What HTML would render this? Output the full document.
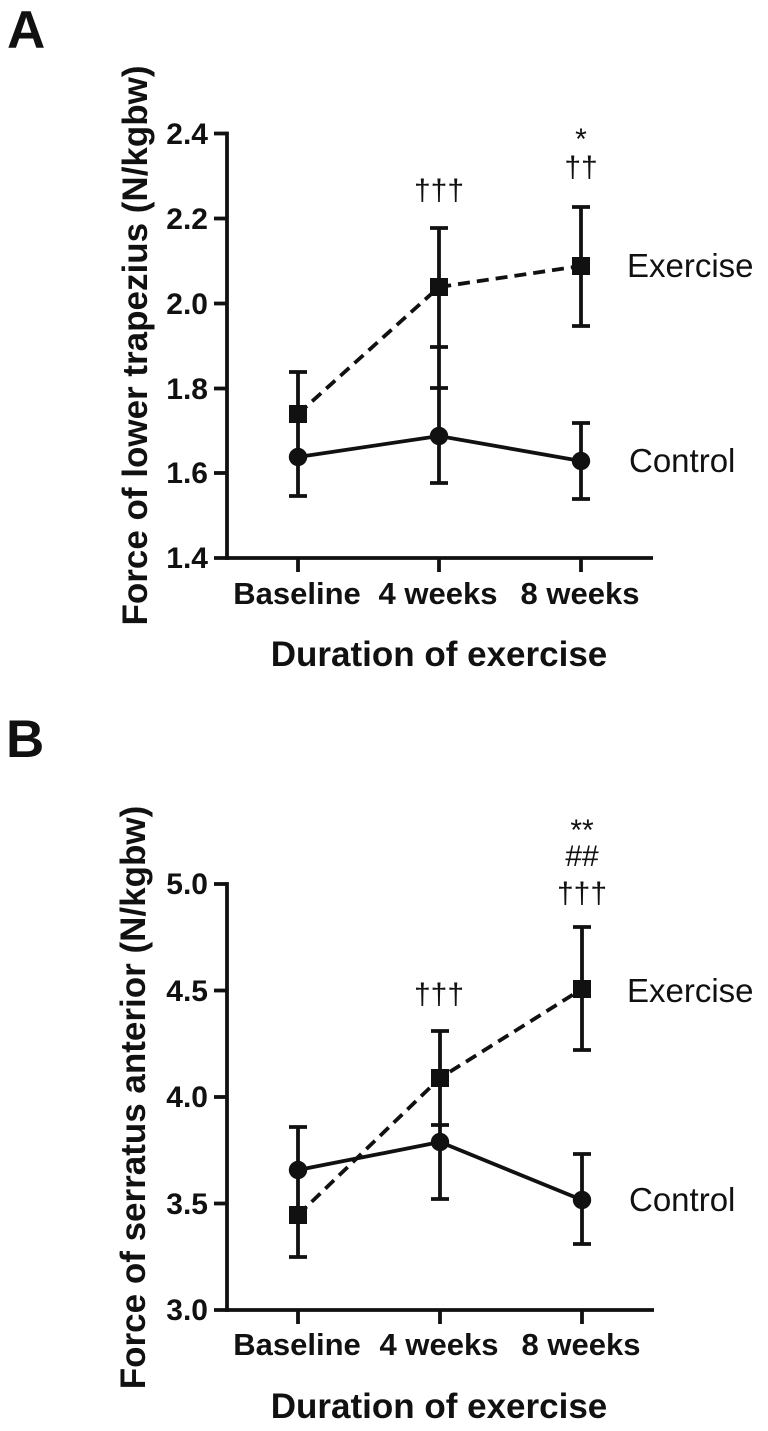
<!DOCTYPE html>
<html>
<head>
<meta charset="utf-8">
<style>
html,body{margin:0;padding:0;background:#fff;}
svg{display:block;}
text{font-family:"Liberation Sans",Arial,sans-serif;fill:#111;}
.b{font-weight:bold;}
</style>
</head>
<body>
<svg width="768" height="1431" viewBox="0 0 768 1431" xmlns="http://www.w3.org/2000/svg">
<rect width="768" height="1431" fill="#fff"/>

<!-- ===== Panel A ===== -->
<text class="b" x="7" y="48" font-size="53">A</text>
<text class="b" font-size="35" text-anchor="middle" transform="translate(147,345.5) rotate(-90)">Force of lower trapezius (N/kgbw)</text>

<g stroke="#111" stroke-width="3.8" fill="none">
  <line x1="227" y1="131.6" x2="227" y2="559.9"/>
  <line x1="214" y1="558" x2="653" y2="558"/>
  <line x1="214" y1="133.5" x2="227" y2="133.5"/>
  <line x1="214" y1="218.5" x2="227" y2="218.5"/>
  <line x1="214" y1="303.5" x2="227" y2="303.5"/>
  <line x1="214" y1="388.5" x2="227" y2="388.5"/>
  <line x1="214" y1="473" x2="227" y2="473"/>
  <line x1="298" y1="558" x2="298" y2="572"/>
  <line x1="439" y1="558" x2="439" y2="572"/>
  <line x1="581" y1="558" x2="581" y2="572"/>
</g>
<g class="b" font-size="30" text-anchor="end">
  <text x="208" y="144">2.4</text>
  <text x="208" y="229">2.2</text>
  <text x="208" y="314">2.0</text>
  <text x="208" y="399">1.8</text>
  <text x="208" y="483">1.6</text>
  <text x="208" y="568">1.4</text>
</g>
<g class="b" font-size="31" text-anchor="middle">
  <text x="297" y="604">Baseline</text>
  <text x="438" y="604">4 weeks</text>
  <text x="580" y="604">8 weeks</text>
</g>
<text class="b" x="439" y="666" font-size="35" text-anchor="middle">Duration of exercise</text>

<!-- series lines A -->
<polyline points="298,414 439,287 581,266" fill="none" stroke="#111" stroke-width="3.8" stroke-dasharray="12,7"/>
<polyline points="298,457 439,436 581,461" fill="none" stroke="#111" stroke-width="3.8"/>
<!-- error bars A -->
<g stroke="#111" stroke-width="3.8" fill="none">
  <line x1="298" y1="372" x2="298" y2="496"/>
  <line x1="289" y1="372" x2="307" y2="372"/>
  <line x1="289" y1="496" x2="307" y2="496"/>
  <line x1="439" y1="228" x2="439" y2="483"/>
  <line x1="430" y1="228" x2="448" y2="228"/>
  <line x1="430" y1="347" x2="448" y2="347"/>
  <line x1="430" y1="388" x2="448" y2="388"/>
  <line x1="430" y1="483" x2="448" y2="483"/>
  <line x1="581" y1="207" x2="581" y2="326"/>
  <line x1="572" y1="207" x2="590" y2="207"/>
  <line x1="572" y1="326" x2="590" y2="326"/>
  <line x1="581" y1="423" x2="581" y2="499"/>
  <line x1="572" y1="423" x2="590" y2="423"/>
  <line x1="572" y1="499" x2="590" y2="499"/>
</g>
<g fill="#111">
  <rect x="289" y="405" width="18" height="18"/>
  <rect x="430" y="278" width="18" height="18"/>
  <rect x="572" y="257" width="18" height="18"/>
  <circle cx="298" cy="457" r="9.2"/>
  <circle cx="439" cy="436" r="9.2"/>
  <circle cx="581" cy="461" r="9.2"/>
</g>
<g font-size="30" text-anchor="middle">
  <text x="439" y="200">†††</text>
  <text x="581" y="149">*</text>
  <text x="581" y="177">††</text>
</g>
<text x="627" y="277" font-size="33">Exercise</text>
<text x="629" y="472" font-size="33">Control</text>

<!-- ===== Panel B ===== -->
<text class="b" x="6" y="757" font-size="53">B</text>
<text class="b" font-size="35" text-anchor="middle" transform="translate(145,1097.5) rotate(-90)">Force of serratus anterior (N/kgbw)</text>

<g stroke="#111" stroke-width="3.8" fill="none">
  <line x1="227" y1="882.1" x2="227" y2="1311.9"/>
  <line x1="214" y1="1310" x2="654" y2="1310"/>
  <line x1="214" y1="884" x2="227" y2="884"/>
  <line x1="214" y1="990.5" x2="227" y2="990.5"/>
  <line x1="214" y1="1097" x2="227" y2="1097"/>
  <line x1="214" y1="1203.5" x2="227" y2="1203.5"/>
  <line x1="298" y1="1310" x2="298" y2="1324"/>
  <line x1="440" y1="1310" x2="440" y2="1324"/>
  <line x1="582" y1="1310" x2="582" y2="1324"/>
</g>
<g class="b" font-size="30" text-anchor="end">
  <text x="208" y="894">5.0</text>
  <text x="208" y="1001">4.5</text>
  <text x="208" y="1107">4.0</text>
  <text x="208" y="1214">3.5</text>
  <text x="208" y="1320">3.0</text>
</g>
<g class="b" font-size="31" text-anchor="middle">
  <text x="297" y="1355">Baseline</text>
  <text x="439" y="1355">4 weeks</text>
  <text x="581" y="1355">8 weeks</text>
</g>
<text class="b" x="439" y="1418" font-size="35" text-anchor="middle">Duration of exercise</text>

<!-- series lines B -->
<polyline points="298,1215 440,1078 582,989" fill="none" stroke="#111" stroke-width="3.8" stroke-dasharray="12,7"/>
<polyline points="298,1170 440,1142 582,1200" fill="none" stroke="#111" stroke-width="3.8"/>
<!-- error bars B -->
<g stroke="#111" stroke-width="3.8" fill="none">
  <line x1="298" y1="1127" x2="298" y2="1257"/>
  <line x1="289" y1="1127" x2="307" y2="1127"/>
  <line x1="289" y1="1257" x2="307" y2="1257"/>
  <line x1="440" y1="1031" x2="440" y2="1199"/>
  <line x1="431" y1="1031" x2="449" y2="1031"/>
  <line x1="431" y1="1125" x2="449" y2="1125"/>
  <line x1="431" y1="1199" x2="449" y2="1199"/>
  <line x1="582" y1="927" x2="582" y2="1050"/>
  <line x1="573" y1="927" x2="591" y2="927"/>
  <line x1="573" y1="1050" x2="591" y2="1050"/>
  <line x1="582" y1="1154" x2="582" y2="1244"/>
  <line x1="573" y1="1154" x2="591" y2="1154"/>
  <line x1="573" y1="1244" x2="591" y2="1244"/>
</g>
<g fill="#111">
  <rect x="289" y="1206" width="18" height="18"/>
  <rect x="431" y="1069" width="18" height="18"/>
  <rect x="573" y="980" width="18" height="18"/>
  <circle cx="298" cy="1170" r="9.2"/>
  <circle cx="440" cy="1142" r="9.2"/>
  <circle cx="582" cy="1200" r="9.2"/>
</g>
<g font-size="30" text-anchor="middle">
  <text x="439" y="1004">†††</text>
  <text x="582" y="840">**</text>
  <text x="582" y="866">##</text>
  <text x="582" y="903">†††</text>
</g>
<text x="627" y="1002" font-size="33">Exercise</text>
<text x="629" y="1211" font-size="33">Control</text>
</svg>
</body>
</html>
